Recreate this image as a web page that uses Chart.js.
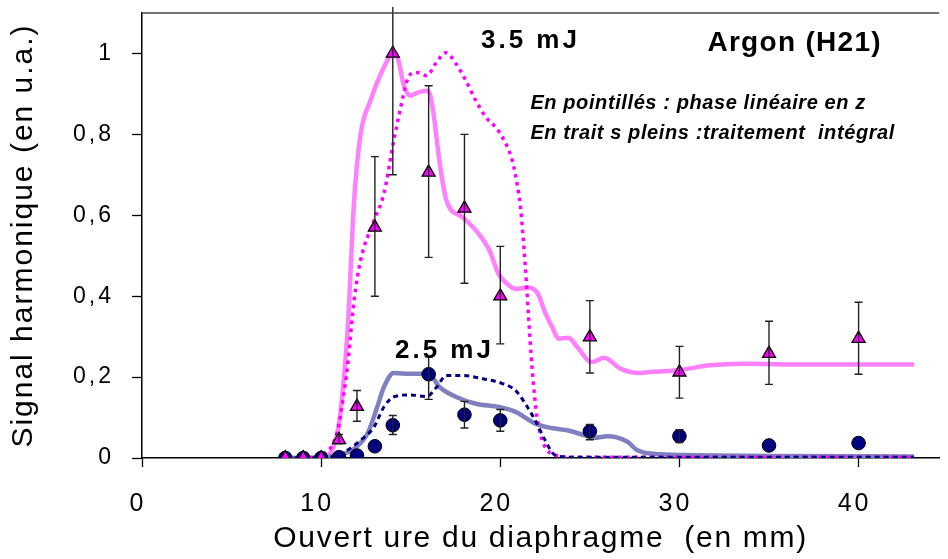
<!DOCTYPE html>
<html><head><meta charset="utf-8">
<script src="https://cdn.jsdelivr.net/npm/chart.js@4/dist/chart.umd.min.js"></script>
<style>html,body{margin:0;padding:0;background:#fff;overflow:hidden}#wrap{width:948px;height:559px}</style>
</head><body><div id="wrap"><canvas id="c" width="948" height="559"></canvas></div>
<script>
// ---- experimental points (diaphragm aperture, mm) ----
const expX   = [8, 9, 10, 11, 12, 13, 14, 16, 18, 20, 25, 30, 35, 40];
// 3.5 mJ (triangles)
const tri    = [0, 0, 0, 0.045, 0.127, 0.57, 1.0, 0.706, 0.617, 0.40, 0.299, 0.212, 0.258, 0.295];
const triHi  = [null, null, null, 0.058, 0.167, 0.745, 1.115, 0.92, 0.80, 0.523, 0.389, 0.276, 0.338, 0.385];
const triLo  = [null, null, null, 0.035, 0.091, 0.40, 0.70, 0.496, 0.432, 0.282, 0.21, 0.148, 0.182, 0.207];
// 2.5 mJ (circles)
const circ   = [0, 0, 0, 0.002, 0.006, 0.029, 0.081, 0.207, 0.107, 0.093, 0.066, 0.054, 0.031, 0.037];
const circHi = [null, null, null, null, null, null, 0.105, 0.25, 0.14, 0.12, 0.083, 0.07, null, null];
const circLo = [null, null, null, null, null, null, 0.058, 0.145, 0.074, 0.066, 0.045, 0.038, null, null];

// ---- simulations ----
// 3.5 mJ, full treatment (solid)
const sPinkX = [8, 10, 10.3, 10.5, 10.9, 11.1, 11.47, 11.84, 12.2, 12.75, 13.5, 14, 14.3, 14.6, 14.96, 15.5, 15.98, 16.25, 16.6, 17.0, 17.9, 18.8, 19.4, 19.9, 20.4, 20.85, 21.6, 22.1, 22.5, 22.9, 23.25, 23.8, 24.3, 25.1, 25.8, 26.7, 27.8, 28.0, 29.9, 31.7, 33.5, 37.2, 43.1];
const sPinkY = [0, 0, 0.003, 0.01, 0.06, 0.12, 0.31, 0.636, 0.80, 0.883, 0.965, 1.0, 0.985, 0.924, 0.896, 0.905, 0.908, 0.858, 0.735, 0.636, 0.595, 0.554, 0.513, 0.455, 0.43, 0.418, 0.421, 0.406, 0.36, 0.323, 0.295, 0.297, 0.274, 0.237, 0.248, 0.221, 0.21, 0.211, 0.217, 0.229, 0.233, 0.231, 0.231];
// 3.5 mJ, linear phase in z (dotted)
const dPinkX = [8, 10, 10.19, 10.6, 10.92, 11.2, 11.47, 11.84, 12.2, 12.95, 13.5, 14.05, 14.4, 14.78, 15.15, 15.5, 15.89, 16.44, 16.95, 17.54, 18.09, 18.64, 19.2, 19.75, 20.12, 20.67, 21.03, 21.13, 21.4, 21.58, 21.77, 22.05, 22.41, 23.06, 24, 43.1];
const dPinkY = [0, 0, 0.011, 0.03, 0.068, 0.14, 0.225, 0.39, 0.488, 0.587, 0.653, 0.784, 0.858, 0.93, 0.953, 0.952, 0.945, 0.978, 1.002, 0.974, 0.932, 0.883, 0.842, 0.817, 0.793, 0.735, 0.653, 0.620, 0.471, 0.348, 0.225, 0.101, 0.036, 0.007, 0.002, 0.002];
// 2.5 mJ, full treatment (solid)
const sBlueX = [8, 10.19, 11, 11.84, 12.58, 13.13, 13.5, 14.05, 14.96, 15.98, 16.62, 17.54, 18.64, 19.93, 20.85, 21.95, 22.87, 23.79, 24.71, 25.26, 25.99, 27.1, 27.65, 28.94, 30.78, 35, 43.1];
const sBlueY = [0, 0.002, 0.008, 0.023, 0.06, 0.126, 0.175, 0.21, 0.208, 0.208, 0.175, 0.151, 0.134, 0.126, 0.114, 0.085, 0.074, 0.068, 0.056, 0.05, 0.054, 0.04, 0.019, 0.009, 0.007, 0.005, 0.004];
// 2.5 mJ, linear phase in z (dotted)
const dNavyX = [8, 10.4, 11.3, 12.2, 12.95, 13.5, 14.05, 14.96, 15.89, 16.44, 16.99, 17.9, 19.01, 20.12, 20.85, 21.4, 21.95, 22.5, 23.06, 24, 43.1];
const dNavyY = [0, 0.002, 0.015, 0.044, 0.077, 0.126, 0.151, 0.156, 0.152, 0.175, 0.204, 0.204, 0.196, 0.184, 0.167, 0.134, 0.093, 0.044, 0.007, 0.002, 0.002];

// ---- texts ----
const xTitle = 'Ouvert ure du diaphragme  (en mm)';
const yTitle = 'Signal harmonique (en u.a.)';
const noteTexts = ['3.5 mJ', 'Argon (H21)', 'En pointillés : phase linéaire en z', 'En trait s pleins :traitement  intégral', '2.5 mJ'];

const pts = (xs, ys) => xs.map((x, i) => ({x, y: ys[i]}));

const FONT = '"Liberation Sans", Arial, Helvetica, sans-serif';
const notes = [
  {t: 0, x: 18.92, y: 1.013, font: 'bold 26px ' + FONT, ls: '3px'},
  {t: 1, x: 31.56, y: 1.007, font: 'bold 28px ' + FONT, ls: '1.3px'},
  {t: 2, x: 21.68, y: 0.8635, font: 'italic bold 20px ' + FONT, ls: '0.6px'},
  {t: 3, x: 21.68, y: 0.789, font: 'italic bold 20px ' + FONT, ls: '0.6px'},
  {t: 4, x: 14.12, y: 0.246, font: 'bold 26px ' + FONT, ls: '3px'}
];
const LS = {x: {labels: '3px', title: '1.7px'}, y: {labels: '3px', title: '2px'}};

const spacingPlugin = {
  id: 'spacing',
  afterUpdate(chart) {
    for (const s of Object.values(chart.scales)) {
      if (s._lsWrapped || !LS[s.id]) continue;
      s._lsWrapped = true;
      const dl = s.drawLabels.bind(s), dt = s.drawTitle.bind(s);
      s.drawLabels = function (a) { const c = this.ctx; c.letterSpacing = LS[this.id].labels; dl(a); c.letterSpacing = '0px'; };
      s.drawTitle = function (a) { const c = this.ctx; c.letterSpacing = LS[this.id].title; dt(a); c.letterSpacing = '0px'; };
    }
  }
};

const errPlugin = {
  id: 'errbars',
  afterDatasetsDraw(chart) {
    const {ctx, scales: {x, y}} = chart;
    const top = y.max;
    const draw = (his, los) => {
      expX.forEach((xv, i) => {
        if (his[i] == null) return;
        const px = x.getPixelForValue(xv);
        const ph = y.getPixelForValue(his[i]), pl = y.getPixelForValue(los[i]);
        ctx.beginPath();
        ctx.moveTo(px, ph); ctx.lineTo(px, pl);
        if (his[i] <= top) { ctx.moveTo(px - 4, ph); ctx.lineTo(px + 4, ph); }
        ctx.moveTo(px - 4, pl); ctx.lineTo(px + 4, pl);
        ctx.stroke();
      });
    };
    ctx.save();
    ctx.strokeStyle = '#222';
    ctx.lineWidth = 1.4;
    draw(triHi, triLo);
    draw(circHi, circLo);
    ctx.restore();
  }
};

const decorPlugin = {
  id: 'decor',
  afterDraw(chart) {
    const {ctx, chartArea: a, scales: {x, y}} = chart;
    ctx.save();
    ctx.strokeStyle = '#444';
    ctx.lineWidth = 1.5;
    ctx.beginPath();
    ctx.moveTo(a.left, a.top); ctx.lineTo(a.right, a.top);
    ctx.stroke();
    ctx.fillStyle = '#000';
    ctx.textAlign = 'left';
    ctx.textBaseline = 'alphabetic';
    for (const n of notes) {
      ctx.font = n.font;
      ctx.letterSpacing = n.ls;
      ctx.fillText(noteTexts[n.t], x.getPixelForValue(n.x), y.getPixelForValue(n.y));
    }
    ctx.letterSpacing = '0px';
    ctx.restore();
  }
};

new Chart(document.getElementById('c'), {
  type: 'scatter',
  data: {
    datasets: [
      {data: pts(expX, tri), pointStyle: 'triangle', pointRadius: 7.5, backgroundColor: '#FF00FF', borderColor: '#000', borderWidth: 1.3, showLine: false, order: 0},
      {data: pts(expX, circ), pointStyle: 'circle', pointRadius: 6.8, backgroundColor: '#000080', borderColor: '#000', borderWidth: 1, showLine: false, order: 1},
      {data: pts(dNavyX, dNavyY), showLine: true, pointRadius: 0, borderColor: '#000080', borderWidth: 3, borderDash: [5, 4], cubicInterpolationMode: 'monotone', order: 2},
      {data: pts(dPinkX, dPinkY), showLine: true, pointRadius: 0, borderColor: '#FF00FF', borderWidth: 3.5, borderDash: [3.5, 4.5], cubicInterpolationMode: 'monotone', order: 3},
      {data: pts(sBlueX, sBlueY), showLine: true, pointRadius: 0, borderColor: '#8080C0', borderWidth: 4.5, cubicInterpolationMode: 'monotone', order: 4},
      {data: pts(sPinkX, sPinkY), showLine: true, pointRadius: 0, borderColor: '#FF80FF', borderWidth: 4.5, cubicInterpolationMode: 'monotone', order: 5}
    ]
  },
  options: {
    responsive: false,
    animation: false,
    devicePixelRatio: 1,
    layout: {padding: {top: 13, left: 0, right: 0, bottom: 0}},
    plugins: {legend: {display: false}, tooltip: {enabled: false}},
    scales: {
      x: {
        type: 'linear', min: 0, max: 44.5,
        afterFit(s) { s.height = 101; s.paddingLeft = 0; s.paddingRight = 0; },
        ticks: {stepSize: 10, includeBounds: false, color: '#000', font: {family: FONT, size: 25}, padding: 22, labelOffset: -4, maxRotation: 0},
        grid: {drawOnChartArea: false, drawTicks: true, tickLength: 9, color: '#000', tickWidth: 1.3},
        border: {display: true, color: '#000', width: 1.5},
        title: {display: true, text: xTitle, color: '#000', font: {family: FONT, size: 30}, padding: {top: 0, bottom: 2}}
      },
      y: {
        type: 'linear', min: 0, max: 1.1,
        afterFit(s) { s.width = 142; s.paddingTop = 0; s.paddingBottom = 0; },
        ticks: {stepSize: 0.2, includeBounds: false, color: '#000', font: {family: FONT, size: 23}, padding: 18,
          callback: v => String(Math.round(v * 10) / 10).replace('.', ',')},
        grid: {drawOnChartArea: false, drawTicks: true, tickLength: 10, color: '#000', tickWidth: 1.3},
        border: {display: true, color: '#000', width: 1.5},
        title: {display: true, text: yTitle, color: '#000', font: {family: FONT, size: 30}, padding: {top: 6, bottom: 0}}
      }
    }
  },
  plugins: [spacingPlugin, errPlugin, decorPlugin]
});
</script>
</body></html>
